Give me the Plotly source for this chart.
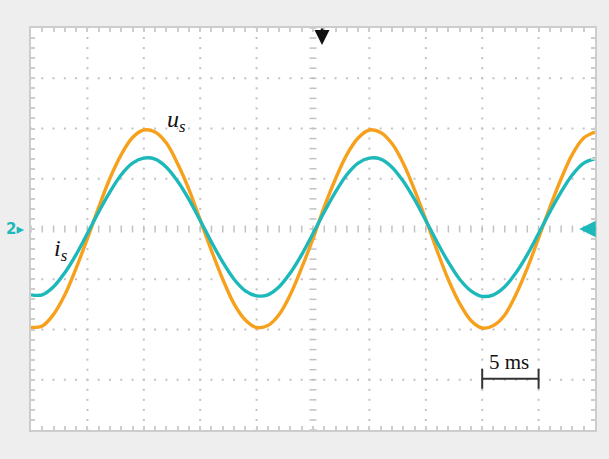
import plotly.graph_objects as go

# time in ms (5 ms / division, 10 divisions)
t_ms = list(range(0, 51))
# voltage u_s in divisions
u_s = [-1.96, -1.93, -1.70, -1.31, -0.78, -0.19, 0.43, 1.01, 1.48, 1.82,
       1.97, 1.93, 1.71, 1.30, 0.79, 0.18, -0.43, -1.00, -1.49, -1.81,
       -1.96, -1.92, -1.70, -1.30, -0.77, -0.19, 0.44, 1.00, 1.48, 1.81,
       1.97, 1.92, 1.70, 1.31, 0.78, 0.19, -0.43, -1.01, -1.48, -1.82,
       -1.97, -1.92, -1.71, -1.30, -0.78, -0.18, 0.43, 1.00, 1.49, 1.81,
       1.93]
# current i_s in divisions
i_s = [-1.31, -1.31, -1.15, -0.87, -0.51, -0.09, 0.34, 0.74, 1.08, 1.31,
       1.41, 1.39, 1.23, 0.95, 0.59, 0.17, -0.26, -0.66, -1.00, -1.23,
       -1.33, -1.31, -1.15, -0.87, -0.51, -0.09, 0.34, 0.74, 1.08, 1.31,
       1.41, 1.39, 1.23, 0.95, 0.59, 0.17, -0.26, -0.66, -1.00, -1.23,
       -1.34, -1.31, -1.15, -0.87, -0.51, -0.09, 0.34, 0.74, 1.08, 1.31,
       1.40]

ORANGE = "#F7A01C"
CYAN = "#1DB8BA"
GRID = "#c2c2c2"
FRAME = "#cdcdcd"

fig = go.Figure()

# dotted graticule
gx, gy = [], []
for xv in range(5, 50, 5):
    if xv == 25:
        continue
    for k in range(0, 41):
        gx.append(xv)
        gy.append(-4 + k * 0.2)
for yv in range(-3, 4):
    if yv == 0:
        continue
    for k in range(0, 51):
        gx.append(k)
        gy.append(yv)
fig.add_trace(go.Scatter(x=gx, y=gy, mode="markers",
                         marker=dict(symbol="square", size=2, color=GRID),
                         hoverinfo="skip", showlegend=False))
# center cross ticks
cx = [25] * 41
cy = [-4 + k * 0.2 for k in range(41)]
fig.add_trace(go.Scatter(x=cx, y=cy, mode="markers",
                         marker=dict(symbol="line-ew", size=5,
                                     line=dict(color=GRID, width=1.5)),
                         hoverinfo="skip", showlegend=False))
hx = list(range(0, 51))
hy = [0] * 51
fig.add_trace(go.Scatter(x=hx, y=hy, mode="markers",
                         marker=dict(symbol="line-ns", size=5,
                                     line=dict(color=GRID, width=1.5)),
                         hoverinfo="skip", showlegend=False))

fig.add_trace(go.Scatter(x=t_ms, y=u_s, mode="lines", name="u_s",
                         line=dict(color=ORANGE, width=3.4, shape="spline"),
                         showlegend=False))
fig.add_trace(go.Scatter(x=t_ms, y=i_s, mode="lines", name="i_s",
                         line=dict(color=CYAN, width=3.4, shape="spline"),
                         showlegend=False))

axis_common = dict(showgrid=False, zeroline=False, showticklabels=False,
                   showline=True, linecolor=FRAME, linewidth=2, mirror="ticks",
                   ticks="inside", ticklen=4, tickcolor=FRAME, tickwidth=1.5)
fig.update_xaxes(range=[0, 50], dtick=5,
                 minor=dict(dtick=1, ticks="inside", ticklen=4, tickcolor=FRAME, tickwidth=1.5),
                 **axis_common)
fig.update_yaxes(range=[-4, 4], dtick=1,
                 minor=dict(dtick=0.2, ticks="inside", ticklen=4, tickcolor=FRAME, tickwidth=1.5),
                 **axis_common)

serif = "Liberation Serif, Times New Roman, serif"
fig.add_annotation(x=12.9, y=2.15, text="<i>u<sub>s</sub></i>", showarrow=False,
                   font=dict(family=serif, size=24, color="#111"))
fig.add_annotation(x=2.7, y=-0.42, text="<i>i<sub>s</sub></i>", showarrow=False,
                   font=dict(family=serif, size=24, color="#111"))
fig.add_annotation(x=42.4, y=-2.64, text="5 ms", showarrow=False,
                   font=dict(family=serif, size=21, color="#111"))

# 5 ms scale bar
fig.add_shape(type="line", x0=40, x1=45, y0=-2.98, y1=-2.98,
              line=dict(color="#333", width=2))
for xv in (40, 45):
    fig.add_shape(type="line", x0=xv, x1=xv, y0=-2.78, y1=-3.18,
                  line=dict(color="#333", width=2))

# channel markers
fig.add_annotation(xref="paper", yref="paper", x=-0.047, y=0.5, xanchor="left",
                   text="<b>2</b>▸", showarrow=False,
                   font=dict(family="DejaVu Sans", size=15, color=CYAN))
fig.add_annotation(xref="paper", yref="paper", x=0.972, y=0.5, ax=18, ay=0,
                   text="", showarrow=True, arrowhead=2, arrowsize=1.1,
                   arrowwidth=3, arrowcolor=CYAN)
fig.add_annotation(xref="paper", yref="paper", x=0.516, y=0.958, ax=0, ay=-18,
                   text="", showarrow=True, arrowhead=2, arrowsize=1.2,
                   arrowwidth=2.5, arrowcolor="#111")

fig.update_layout(width=609, height=459,
                  margin=dict(l=31, r=12, t=28, b=29),
                  paper_bgcolor="#eeeeee", plot_bgcolor="#ffffff")

fig.write_html("out.html", config={"displayModeBar": False},
               post_script="document.body.style.margin='0';")
